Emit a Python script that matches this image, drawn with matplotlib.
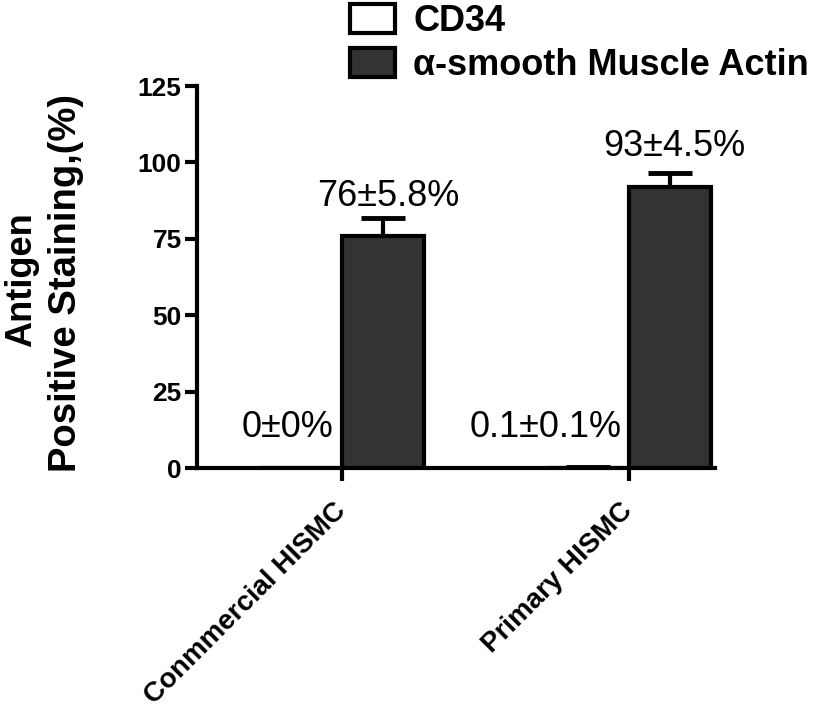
import matplotlib
matplotlib.use("Agg")
import matplotlib.pyplot as plt
from matplotlib.patches import Patch

# ---- data ----
groups = ["Conmmercial HISMC", "Primary HISMC"]
series_names = ["CD34", "α-smooth Muscle Actin"]
cd34_vals = [0.0, 0.1]
cd34_err = [0.0, 0.1]
sma_vals = [76.0, 92.0]
sma_err = [5.8, 4.5]
cd34_labels = ["0±0%", "0.1±0.1%"]
sma_labels = ["76±5.8%", "93±4.5%"]
yticks = [0, 25, 50, 75, 100, 125]

plt.rcParams['font.family'] = ['Liberation Sans', 'DejaVu Sans']

fig = plt.figure(figsize=(8.24, 7.08), dpi=100)
ax = fig.add_axes([197/824, 1-468/708, (715-197)/824, (468-86)/708])

group_pos = [0.0, 3.5]
w = 1.0
x_cd34 = [g for g in group_pos]
x_sma = [g + w for g in group_pos]

ax.bar(x_cd34, cd34_vals, width=w, color="white", edgecolor="black", linewidth=3, zorder=2)
ax.bar(x_sma, sma_vals, width=w, color="#333333", edgecolor="black", linewidth=3, zorder=2)

for xs, vals, errs in [(x_cd34, cd34_vals, cd34_err), (x_sma, sma_vals, sma_err)]:
    _, caps, _ = ax.errorbar(xs, vals, yerr=[[0]*len(errs), errs], fmt='none',
                             ecolor='black', elinewidth=3, capsize=16, capthick=3.5, zorder=3)
    if len(caps) >= 2:
        caps[0].set_visible(False)

# value annotations
for xs, vals, labs, dx, ys in [
    (x_cd34, cd34_vals, cd34_labels, [-0.16, -0.52], [10.1, 10.1]),
    (x_sma, sma_vals, sma_labels, [0.06, 0.05], [85.8, 102.2]),
]:
    for xi, lab, d, yy in zip(xs, labs, dx, ys):
        ax.text(xi + d, yy, lab, ha='center', va='baseline', fontsize=26, color='black')

ax.set_ylim(0, 125)
ax.set_xlim(-1.27, 5.05)
ax.set_yticks(yticks)
ax.set_yticklabels([str(t) for t in yticks], fontsize=19, fontweight='bold')
ax.set_xticks([g + w/2 for g in group_pos])
ax.set_xticklabels(groups, rotation=45, ha='right', va='center', rotation_mode='anchor',
                   fontsize=20, fontweight='bold')
ax.tick_params(axis='both', width=3, length=9, direction='out')
ax.tick_params(axis='x', pad=19)
ax.tick_params(axis='y', pad=2)

for s in ['top', 'right']:
    ax.spines[s].set_visible(False)
for s in ['left', 'bottom']:
    ax.spines[s].set_linewidth(3)

fig.text(22/824, 1-280/708, "Antigen", rotation=90, ha='center', va='center',
         fontsize=26, fontweight='bold')
fig.text(66/824, 1-283/708, "Positive Staining,(%)", rotation=90, ha='center', va='center',
         fontsize=27.5, fontweight='bold')

handles = [Patch(facecolor='white', edgecolor='black', linewidth=3),
           Patch(facecolor='#333333', edgecolor='black', linewidth=3)]
fig.legend(handles, series_names, loc='upper left', bbox_to_anchor=(350/824, 1 - 4/708),
           frameon=False, prop={'family': 'Liberation Sans', 'weight': 'bold', 'size': 26},
           handlelength=1.25, handleheight=0.85, handletextpad=0.5, labelspacing=0.25,
           borderpad=0.0, borderaxespad=0.0)

fig.savefig("out.png", dpi=100)
